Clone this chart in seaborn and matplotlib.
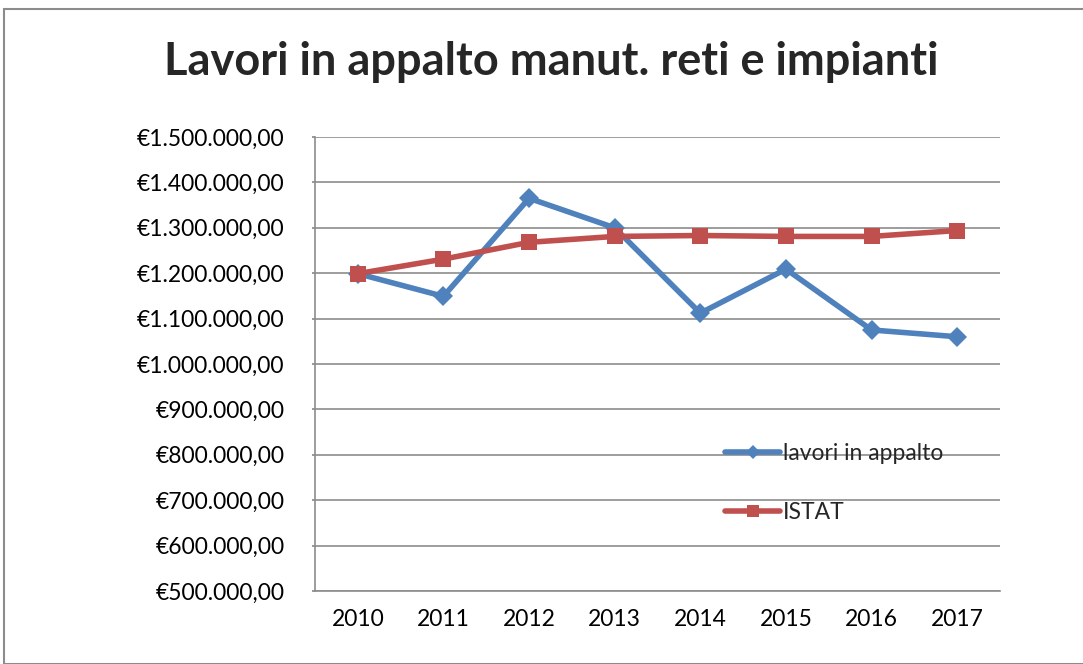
import matplotlib
matplotlib.use("Agg")
import matplotlib.pyplot as plt
import seaborn as sns
import pandas as pd
from matplotlib.patches import Rectangle
from matplotlib.ticker import FuncFormatter

years = ["2010", "2011", "2012", "2013", "2014", "2015", "2016", "2017"]
lavori = [1199000, 1149000, 1365000, 1300000, 1112000, 1209000, 1075000, 1060000]
istat = [1199000, 1231000, 1268000, 1281000, 1283000, 1281000, 1281000, 1294000]
series_names = ["lavori in appalto", "ISTAT"]
title = "Lavori in appalto manut. reti e impianti"

df = pd.DataFrame({
    "anno": years * 2,
    "valore": lavori + istat,
    "serie": [series_names[0]] * len(years) + [series_names[1]] * len(years),
})

sns.set_theme(style="white")
plt.rcParams["font.family"] = ["Lato", "DejaVu Sans"]

fig = plt.figure(figsize=(10.83, 6.64), dpi=100)
ax = fig.add_axes([315 / 1083, 1 - 591 / 664, 685 / 1083, 454 / 664])

palette = {series_names[0]: "#4F81BD", series_names[1]: "#C0504D"}
markers = {series_names[0]: "D", series_names[1]: "s"}
sns.lineplot(data=df, x="anno", y="valore", hue="serie", style="serie",
             palette=palette, markers=markers, dashes=False, linewidth=4,
             markersize=11.5, markeredgewidth=0, ax=ax, sort=False)
for ln in ax.lines:
    if ln.get_marker() == "D":
        ln.set_markersize(10)

ax.set_ylim(500000, 1500000)
ax.set_xlim(-0.5, 7.5)
ax.set_yticks(range(500000, 1500001, 100000))

def eur(v, pos):
    s = f"{int(v):,}".replace(",", ".")
    return f"€{s},00"

ax.yaxis.set_major_formatter(FuncFormatter(eur))
ax.grid(axis="y", color="#8c8c8c", linewidth=1.2)
ax.set_axisbelow(True)
for side in ["top", "right"]:
    ax.spines[side].set_visible(False)
for side in ["left", "bottom"]:
    ax.spines[side].set_color("#8c8c8c")
    ax.spines[side].set_linewidth(1.2)
ax.tick_params(axis="y", labelsize=16.5, length=2, color="#8c8c8c", left=True, pad=20)
ax.tick_params(axis="x", labelsize=16.5, length=0, pad=13)
ax.set_xlabel("")
ax.set_ylabel("")
for lbl in ax.get_xticklabels() + ax.get_yticklabels():
    lbl.set_color("black")

leg = ax.legend(loc="upper left", bbox_to_anchor=(0.599, 0.325), frameon=False,
                fontsize=16.5, handlelength=2.4, handletextpad=0.1,
                labelspacing=1.62, borderaxespad=0, borderpad=0, markerscale=0.75)

fig.text(551 / 1083, 1 - 62 / 664, title, ha="center", va="center",
         fontsize=32.5, fontweight="bold")

fig.patches.append(Rectangle((4 / 1083, 0), 1, 1 - 9 / 664, transform=fig.transFigure,
                             fill=False, edgecolor="#8c8c8c", linewidth=1.5))

fig.savefig("out.png", dpi=100)
